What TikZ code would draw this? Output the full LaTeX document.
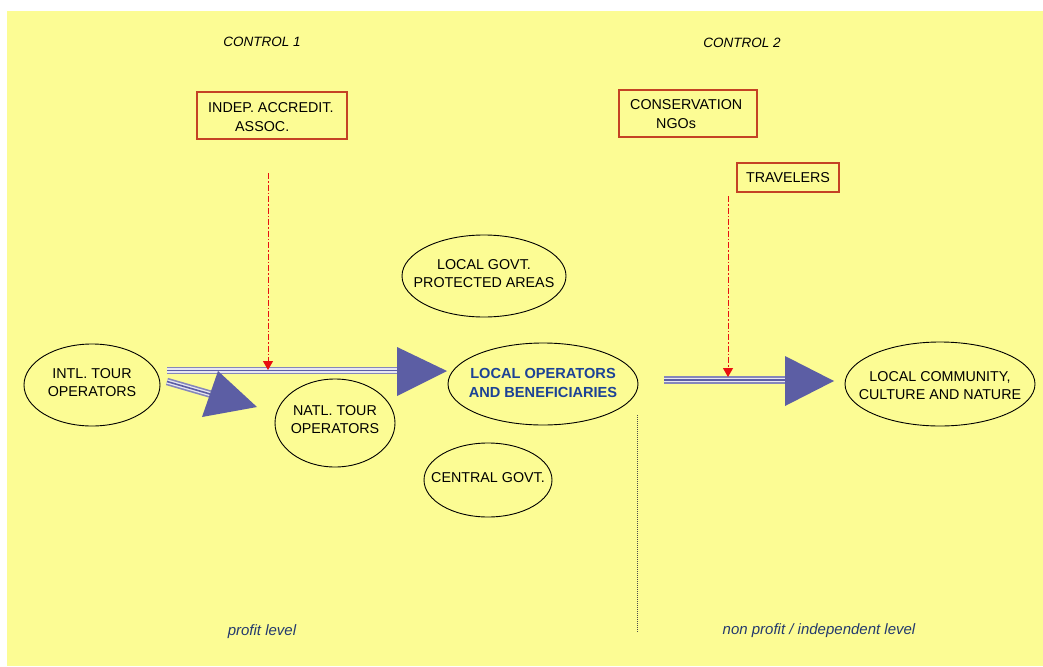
\documentclass[tikz,border=0pt]{standalone}
\usepackage{fontspec}
\setmainfont{Liberation Sans}
\usetikzlibrary{shapes.geometric,arrows.meta}
\definecolor{bg}{RGB}{252,252,148}
\definecolor{boxc}{RGB}{196,66,36}
\definecolor{arrc}{RGB}{92,94,164}
\definecolor{redc}{RGB}{232,16,16}
\definecolor{bluet}{RGB}{28,66,150}
\definecolor{lvl}{RGB}{36,58,110}
\begin{document}
\begin{tikzpicture}[x=1pt,y=-1pt,
  ell/.style={draw=black, line width=0.9pt, ellipse, inner sep=0pt},
  etext/.style={font=\fontsize{14.3}{18}\selectfont, align=center, inner sep=0pt},
  btext/.style={font=\fontsize{14.6}{18.5}\selectfont\bfseries, text=bluet, align=center, inner sep=0pt},
  rbox/.style={draw=boxc, line width=1.6pt, rectangle, inner sep=0pt},
  btxt/.style={font=\fontsize{14.3}{18.5}\selectfont, align=left, inner sep=0pt},
  ctrl/.style={font=\fontsize{13.5}{15}\selectfont\itshape, inner sep=0pt},
  lvltext/.style={font=\fontsize{15}{16}\selectfont\itshape, text=lvl, inner sep=0pt},
  redarrow/.style={draw=redc, line width=1pt, dash pattern=on 6pt off 2pt on 1.5pt off 2pt, -{Triangle[width=10pt,length=9pt]}},
  shaftA/.style={line width=7.5pt, draw=arrc!75},
  shaftB/.style={line width=4.2pt, draw=white!85!arrc},
  shaftC/.style={line width=1.6pt, draw=arrc},
  head/.style={fill=arrc, draw=none}
]
\useasboundingbox (0,0) rectangle (1043,666);
\fill[white] (0,0) rectangle (1043,666);
\fill[bg] (7,11) rectangle (1043,666);

% titles
\node[ctrl] (c1) at (262,42) {CONTROL 1};
\node[ctrl] (c2) at (742,43) {CONTROL 2};

% boxes
\node[rbox, minimum width=150pt, minimum height=47pt] (indep) at (272,115.5) {};
\node[btxt, anchor=west] (indept) at (208,117) {INDEP. ACCREDIT.\\\hspace*{27pt}ASSOC.};
\node[rbox, minimum width=138pt, minimum height=47pt] (cons) at (688,113.5) {};
\node[btxt, anchor=west] (const) at (630,114) {CONSERVATION\\\hspace*{26pt}NGOs};
\node[rbox, minimum width=102pt, minimum height=29pt] (trav) at (788,177.5) {};
\node[btxt] (travt) at (trav) {TRAVELERS};

% ellipses
\node[ell, minimum width=136pt, minimum height=82pt] (intl) at (92,385) {};
\node[etext] (intlt) at (92,383) {INTL. TOUR\\OPERATORS};
\node[ell, minimum width=120pt, minimum height=88pt] (natl) at (335,423) {};
\node[etext] (natlt) at (335,420) {NATL. TOUR\\OPERATORS};
\node[ell, minimum width=164pt, minimum height=82pt] (lgov) at (484,276) {};
\node[etext] (lgovt) at (484,274) {LOCAL GOVT.\\PROTECTED AREAS};
\node[ell, minimum width=190pt, minimum height=82pt] (lop) at (543,384) {};
\node[btext] (lopt) at (543,383) {LOCAL OPERATORS\\AND BENEFICIARIES};
\node[ell, minimum width=128pt, minimum height=74pt] (cgov) at (488,480) {};
\node[etext] (cgovt) at (488,478) {CENTRAL GOVT.};
\node[ell, minimum width=190pt, minimum height=84pt] (lc) at (940,384) {};
\node[etext] (lct) at (940,386) {LOCAL COMMUNITY,\\CULTURE AND NATURE};

% main arrow 1: intl -> lop
\coordinate (a1s) at (167,370.5);
\coordinate (a1b) at (397,370.5);
\coordinate (a1t) at (447,371);
\foreach \s in {shaftA,shaftB,shaftC} \draw[\s] (a1s) -- (a1b);
\fill[head] (397,347) -- (a1t) -- (397,396) -- cycle;

% diagonal arrow: intl -> natl
\coordinate (a2s) at (167,381.5);
\coordinate (a2b) at (210,394);
\coordinate (a2t) at (257,407);
\foreach \s in {shaftA,shaftB,shaftC} \draw[\s] (a2s) -- (a2b);
\fill[head] (218,371) -- (a2t) -- (202,417) -- cycle;

% main arrow 2: lop -> lc
\coordinate (a3s) at (664,380);
\coordinate (a3b) at (785,380);
\coordinate (a3t) at (834,381);
\foreach \s in {shaftA,shaftB,shaftC} \draw[\s] (a3s) -- (a3b);
\fill[head] (785,356) -- (a3t) -- (785,406) -- cycle;

% red control arrows
\coordinate (r1s) at (268,173);
\coordinate (r1e) at (268,370);
\draw[redarrow] (r1s) -- (r1e);
\coordinate (r2s) at (728,196);
\coordinate (r2e) at (728,377);
\draw[redarrow] (r2s) -- (r2e);

% divider
\coordinate (d1) at (637,415);
\coordinate (d2) at (637,633);
\draw[black!70, line width=0.8pt, dash pattern=on 1pt off 1pt] (d1) -- (d2);

% level labels
\node[lvltext] (pl) at (262,632) {profit level};
\node[lvltext] (npl) at (819,631) {non profit / independent level};
\end{tikzpicture}
\end{document}
